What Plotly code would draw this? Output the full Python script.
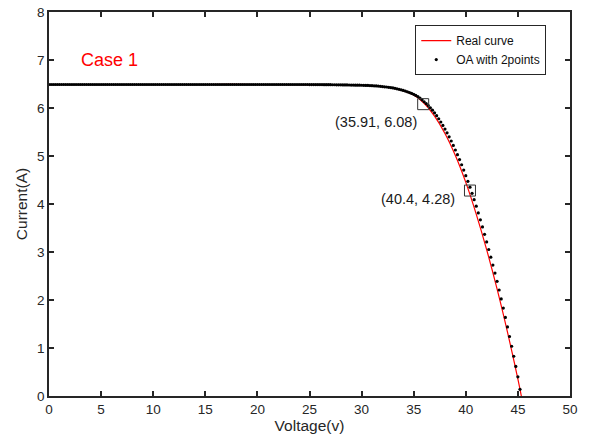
import plotly.graph_objects as go

# Real curve
real_v = [0, 5, 10, 15, 20, 25, 26, 27, 28, 29, 30, 31, 32, 33, 34, 35, 36, 37, 38, 39,
          40, 41, 42, 43, 44, 45, 45.33]
real_i = [6.49, 6.49, 6.49, 6.49, 6.49, 6.488, 6.486, 6.484, 6.481, 6.478, 6.474, 6.465,
          6.445, 6.415, 6.36, 6.27, 6.10, 5.83, 5.47, 5.01, 4.45, 3.79, 3.05, 2.23, 1.33,
          0.35, 0.0]

# OA with 2points (dots, every 0.2 V)
oa_v = [
    0.0, 0.2, 0.4, 0.6, 0.8, 1.0, 1.2, 1.4, 1.6, 1.8, 2.0, 2.2, 2.4, 2.6, 2.8,
    3.0, 3.2, 3.4, 3.6, 3.8, 4.0, 4.2, 4.4, 4.6, 4.8, 5.0, 5.2, 5.4, 5.6, 5.8,
    6.0, 6.2, 6.4, 6.6, 6.8, 7.0, 7.2, 7.4, 7.6, 7.8, 8.0, 8.2, 8.4, 8.6, 8.8,
    9.0, 9.2, 9.4, 9.6, 9.8, 10.0, 10.2, 10.4, 10.6, 10.8, 11.0, 11.2, 11.4, 11.6, 11.8,
    12.0, 12.2, 12.4, 12.6, 12.8, 13.0, 13.2, 13.4, 13.6, 13.8, 14.0, 14.2, 14.4, 14.6, 14.8,
    15.0, 15.2, 15.4, 15.6, 15.8, 16.0, 16.2, 16.4, 16.6, 16.8, 17.0, 17.2, 17.4, 17.6, 17.8,
    18.0, 18.2, 18.4, 18.6, 18.8, 19.0, 19.2, 19.4, 19.6, 19.8, 20.0, 20.2, 20.4, 20.6, 20.8,
    21.0, 21.2, 21.4, 21.6, 21.8, 22.0, 22.2, 22.4, 22.6, 22.8, 23.0, 23.2, 23.4, 23.6, 23.8,
    24.0, 24.2, 24.4, 24.6, 24.8, 25.0, 25.2, 25.4, 25.6, 25.8, 26.0, 26.2, 26.4, 26.6, 26.8,
    27.0, 27.2, 27.4, 27.6, 27.8, 28.0, 28.2, 28.4, 28.6, 28.8, 29.0, 29.2, 29.4, 29.6, 29.8,
    30.0, 30.2, 30.4, 30.6, 30.8, 31.0, 31.2, 31.4, 31.6, 31.8, 32.0, 32.2, 32.4, 32.6, 32.8,
    33.0, 33.2, 33.4, 33.6, 33.8, 34.0, 34.2, 34.4, 34.6, 34.8, 35.0, 35.2, 35.4, 35.6, 35.8,
    36.0, 36.2, 36.4, 36.6, 36.8, 37.0, 37.2, 37.4, 37.6, 37.8, 38.0, 38.2, 38.4, 38.6, 38.8,
    39.0, 39.2, 39.4, 39.6, 39.8, 40.0, 40.2, 40.4, 40.6, 40.8, 41.0, 41.2, 41.4, 41.6, 41.8,
    42.0, 42.2, 42.4, 42.6, 42.8, 43.0, 43.2, 43.4, 43.6, 43.8, 44.0, 44.2, 44.4, 44.6, 44.8,
    45.0, 45.2,
]
oa_i = [
    6.49, 6.49, 6.49, 6.49, 6.49, 6.49, 6.49, 6.49, 6.49, 6.49, 6.49, 6.49, 6.49, 6.49, 6.49,
    6.49, 6.49, 6.49, 6.49, 6.49, 6.49, 6.49, 6.49, 6.49, 6.49, 6.49, 6.49, 6.49, 6.49, 6.49,
    6.49, 6.49, 6.49, 6.49, 6.49, 6.49, 6.49, 6.49, 6.49, 6.49, 6.49, 6.49, 6.49, 6.49, 6.49,
    6.49, 6.49, 6.49, 6.49, 6.49, 6.49, 6.49, 6.49, 6.49, 6.49, 6.49, 6.49, 6.49, 6.49, 6.49,
    6.49, 6.49, 6.49, 6.49, 6.49, 6.49, 6.49, 6.49, 6.49, 6.49, 6.49, 6.49, 6.49, 6.49, 6.49,
    6.49, 6.49, 6.49, 6.49, 6.49, 6.49, 6.49, 6.49, 6.49, 6.49, 6.49, 6.49, 6.49, 6.49, 6.49,
    6.49, 6.49, 6.49, 6.49, 6.49, 6.49, 6.49, 6.49, 6.49, 6.49, 6.49, 6.49, 6.49, 6.49, 6.49,
    6.49, 6.49, 6.49, 6.49, 6.49, 6.49, 6.49, 6.49, 6.49, 6.49, 6.49, 6.49, 6.49, 6.49, 6.49,
    6.49, 6.49, 6.49, 6.49, 6.49, 6.489, 6.489, 6.488, 6.488, 6.488, 6.487, 6.487, 6.486, 6.486, 6.485,
    6.485, 6.484, 6.484, 6.483, 6.483, 6.482, 6.481, 6.480, 6.480, 6.479, 6.478, 6.477, 6.476, 6.476, 6.475,
    6.474, 6.473, 6.471, 6.470, 6.468, 6.466, 6.463, 6.460, 6.456, 6.452, 6.447, 6.442, 6.437, 6.431, 6.425,
    6.418, 6.409, 6.400, 6.389, 6.378, 6.366, 6.352, 6.337, 6.321, 6.304, 6.285, 6.263, 6.237, 6.206, 6.170,
    6.130, 6.092, 6.050, 6.004, 5.954, 5.900, 5.840, 5.776, 5.708, 5.636, 5.560, 5.482, 5.400, 5.313, 5.221,
    5.125, 5.027, 4.925, 4.818, 4.706, 4.590, 4.472, 4.350, 4.223, 4.091, 3.955, 3.815, 3.671, 3.522, 3.368,
    3.210, 3.052, 2.892, 2.728, 2.560, 2.390, 2.208, 2.022, 1.832, 1.638, 1.440, 1.240, 1.036, 0.828, 0.616,
    0.400, 0.140,
]

# Highlighted points
pt_v = [35.91, 40.4]
pt_i = [6.08, 4.28]
pt_labels = ["(35.91, 6.08)", "(40.4, 4.28)"]
label_v = [31.4, 35.46]
label_i = [5.71, 4.10]

FONT = "Liberation Sans, Arial, sans-serif"
AX = "#262626"

fig = go.Figure()
fig.add_trace(go.Scatter(x=real_v, y=real_i, mode="lines", name="Real curve",
                         line=dict(color="#ff0000", width=1.2, shape="spline")))
fig.add_trace(go.Scatter(x=oa_v, y=oa_i, mode="markers", name="OA with 2points",
                         marker=dict(color="black", size=3.2)))
fig.add_trace(go.Scatter(x=pt_v, y=pt_i, mode="markers", showlegend=False,
                         marker=dict(symbol="square-open", size=11,
                                     color="#333333", line=dict(width=1))))
for lv, li, t in zip(label_v, label_i, pt_labels):
    fig.add_annotation(x=lv, y=li, text=t, showarrow=False,
                       font=dict(family=FONT, size=14.5, color="#1a1a1a"))
fig.add_annotation(x=5.85, y=7.0, text="Case 1", showarrow=False,
                   font=dict(family=FONT, size=18, color="#ff0000"))

axis_common = dict(showline=True, linecolor=AX, linewidth=1.5, mirror="ticks",
                   ticks="inside", ticklen=5, tickwidth=1.5, tickcolor=AX,
                   showgrid=False, zeroline=False, automargin=False,
                   ticklabeloverflow="allow",
                   tickfont=dict(family=FONT, size=13.5, color=AX))

fig.update_xaxes(range=[0, 50], tick0=0, dtick=5,
                 title=dict(text="Voltage(v)", font=dict(family=FONT, size=15.5, color=AX),
                            standoff=2),
                 **axis_common)
fig.update_yaxes(range=[0, 8], tick0=0, dtick=1,
                 title=dict(text="Current(A)", font=dict(family=FONT, size=15.5, color=AX),
                            standoff=6),
                 **axis_common)

fig.update_layout(
    width=589, height=447,
    margin=dict(l=49, r=19, t=12, b=51),
    paper_bgcolor="white", plot_bgcolor="white",
    font=dict(family=FONT, color=AX),
    legend=dict(x=0.703, y=0.966, xanchor="left", yanchor="top",
                bgcolor="white", bordercolor=AX, borderwidth=1,
                font=dict(family=FONT, size=12, color="#111111"),
                tracegroupgap=0, itemwidth=30),
)

# remove the browser's default body margin so the figure sits at the window origin
fig.write_html("out.html", config={"displayModeBar": False},
               post_script="document.body.style.margin='0px';")
